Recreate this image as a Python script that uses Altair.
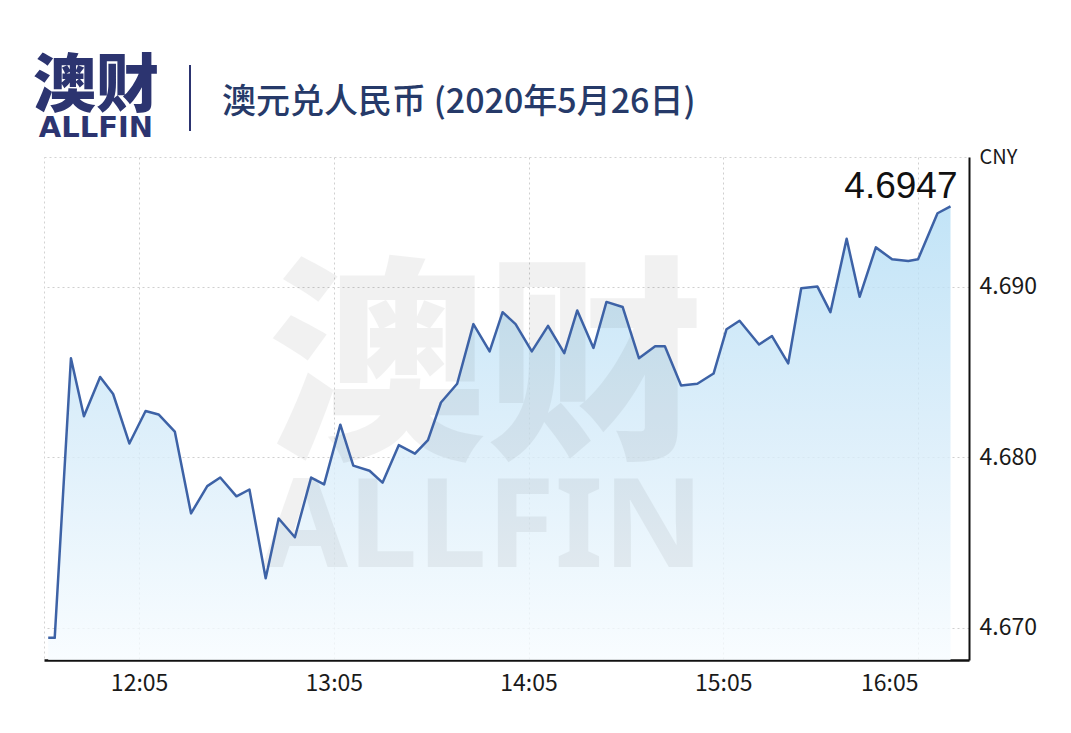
import altair as alt
import pandas as pd

# ---- data ----
times = ["11:37", "11:39", "11:44", "11:48", "11:53", "11:57", "12:02", "12:07", "12:11", "12:16",
         "12:21", "12:26", "12:30", "12:35", "12:39", "12:44", "12:48", "12:53", "12:58", "13:02",
         "13:07", "13:11", "13:16", "13:20", "13:25", "13:30", "13:34", "13:38", "13:43", "13:48",
         "13:53", "13:57", "14:01", "14:06", "14:11", "14:16", "14:20", "14:25", "14:29", "14:34",
         "14:39", "14:44", "14:47", "14:52", "14:57", "15:02", "15:06", "15:10", "15:16", "15:20",
         "15:25", "15:29", "15:34", "15:38", "15:43", "15:47", "15:52", "15:57", "16:02", "16:05",
         "16:11", "16:15"]
rates = [4.6694, 4.6694, 4.6858, 4.6824, 4.6847, 4.6837, 4.6808, 4.6827, 4.6825, 4.6815,
         4.6767, 4.6783, 4.6788, 4.6777, 4.6781, 4.6729, 4.6764, 4.6753, 4.6788, 4.6784,
         4.6819, 4.6795, 4.6792, 4.6785, 4.6807, 4.6802, 4.6810, 4.6832, 4.6843, 4.6878,
         4.6862, 4.6885, 4.6878, 4.6862, 4.6877, 4.6861, 4.6886, 4.6864, 4.6891, 4.6888,
         4.6858, 4.6865, 4.6865, 4.6842, 4.6843, 4.6849, 4.6875, 4.6880, 4.6866, 4.6871,
         4.6855, 4.6899, 4.6900, 4.6885, 4.6928, 4.6894, 4.6923, 4.6916, 4.6915, 4.6916,
         4.6943, 4.6947]
x_tick_labels = ["12:05", "13:05", "14:05", "15:05", "16:05"]
y_tick_values = [4.670, 4.680, 4.690]
x_range = ["11:35.7", "16:20.7"]
y_range = [4.6681, 4.6976]
title_text = "澳元兑人民币 (2020年5月26日)"
logo_cn = "澳财"
logo_en = "ALLFIN"
unit = "CNY"


def to_min(s):
    h, m = s.split(":")
    return int(h) * 60 + float(m)


df = pd.DataFrame({"t": [to_min(s) for s in times], "rate": rates})
last = df.tail(1).assign(label=lambda d: d["rate"].map(lambda v: f"{v:.4f}"))

NAVY = "#2c3470"
CJK = "Noto Sans CJK SC"

x_enc = alt.X(
    "t:Q",
    scale=alt.Scale(domain=[to_min(s) for s in x_range], nice=False, zero=False),
    axis=alt.Axis(
        values=[to_min(s) for s in x_tick_labels],
        labelExpr="floor(datum.value/60) + ':' + (datum.value % 60 < 10 ? '0' : '') + (datum.value % 60)",
        grid=True, gridColor="#cfcfcf", gridDash=[2, 3], gridWidth=1,
        ticks=False, domainColor="#111111", domainWidth=2.5,
        labelFont=CJK, labelFontSize=23, labelColor="#1a1a1a", labelPadding=12,
        labelFlush=60, title=None,
    ),
)
y_enc = alt.Y(
    "rate:Q",
    scale=alt.Scale(domain=y_range, nice=False, zero=False),
    axis=alt.Axis(
        orient="right", values=y_tick_values, format=".3f",
        grid=True, gridColor="#cfcfcf", gridDash=[2, 3], gridWidth=1,
        ticks=False, domainColor="#111111", domainWidth=2,
        labelFont=CJK, labelFontSize=23, labelColor="#1a1a1a", labelPadding=10,
        title=unit, titleAngle=0, titleAlign="left", titleBaseline="top",
        titleX=10, titleY=-10, titleFont=CJK, titleFontSize=20,
        titleFontWeight="normal", titleColor="#1a1a1a",
    ),
)

base = alt.Chart(df)

area = base.mark_area(
    color=alt.Gradient(
        gradient="linear",
        stops=[alt.GradientStop(color="#b3ddf5", offset=0),
               alt.GradientStop(color="#d5ebf9", offset=0.5),
               alt.GradientStop(color="#f7fcff", offset=1)],
        x1=1, x2=1, y1=0, y2=1,
    ),
    opacity=0.8,
).encode(x=x_enc, y=y_enc, y2=alt.Y2(datum=y_range[0]))

wm_cn = alt.Chart(pd.DataFrame({"s": [logo_cn]})).mark_text(
    font=CJK, fontSize=218, fontWeight=900, color="#000000", opacity=0.05,
    align="center", baseline="alphabetic",
).encode(x=alt.value(442), y=alt.value(285), text="s:N")

wm_en = alt.Chart(pd.DataFrame({"s": [logo_en]})).mark_text(
    font="Noto Sans", fontSize=124, fontWeight="bold", color="#000000", opacity=0.05,
    align="center", baseline="alphabetic",
).encode(x=alt.value(439), y=alt.value(410), text="s:N")

line = base.mark_line(color="#3d62a6", strokeWidth=2.5, strokeJoin="round").encode(x="t:Q", y="rate:Q")

last_label = alt.Chart(last).mark_text(
    font="Liberation Sans", fontSize=37, color="#111111", align="right",
    baseline="alphabetic", dx=7, dy=-8,
).encode(x="t:Q", y="rate:Q", text="label:N")

logo1 = alt.Chart(pd.DataFrame({"s": [logo_cn]})).mark_text(
    font=CJK, fontSize=63, fontWeight=900, color=NAVY, align="center", baseline="alphabetic",
).encode(x=alt.value(52), y=alt.value(-51), text="s:N")

logo2 = alt.Chart(pd.DataFrame({"s": [logo_en]})).mark_text(
    font="DejaVu Sans", fontSize=29, fontWeight="bold", color=NAVY, align="center", baseline="alphabetic",
).encode(x=alt.value(52), y=alt.value(-20), text="s:N")

sep = alt.Chart(pd.DataFrame({"s": [0]})).mark_rule(color=NAVY, strokeWidth=2).encode(
    x=alt.value(146), x2=alt.value(146), y=alt.value(-92), y2=alt.value(-26)
)

title = alt.Chart(pd.DataFrame({"s": [title_text]})).mark_text(
    font=CJK, fontSize=34, fontWeight=500, color="#263a69", align="left", baseline="alphabetic",
).encode(x=alt.value(178), y=alt.value(-44), text="s:N")

chart = alt.layer(area, wm_cn, wm_en, line, last_label, logo1, logo2, sep, title).properties(
    width=925, height=503,
    autosize=alt.AutoSizeParams(type="none"),
    padding={"left": 36, "top": 149, "right": 94, "bottom": 65},
    background="white",
).configure_view(stroke="#d3d3d3", strokeDash=[2, 3], strokeWidth=1)

chart.save("out.html", embed_options={"renderer": "svg", "actions": False})
